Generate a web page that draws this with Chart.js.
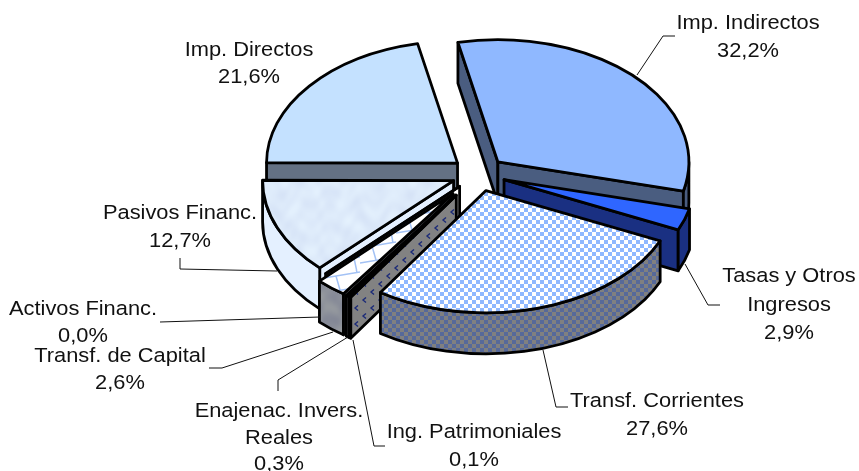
<!DOCTYPE html>
<html>
<head>
<meta charset="utf-8">
<style>
  html, body { margin: 0; padding: 0; background: #fff; }
  canvas { display: block; }
</style>
<script src="https://cdn.jsdelivr.net/npm/chart.js@4"></script>
</head>
<body>
<canvas id="pie" width="859" height="471"></canvas>
<script>
const categories = ["Imp. Directos", "Imp. Indirectos", "Tasas y Otros Ingresos", "Transf. Corrientes",
  "Ing. Patrimoniales", "Enajenac. Invers. Reales", "Transf. de Capital", "Activos Financ.", "Pasivos Financ."];
const values = [21.6, 32.2, 2.9, 27.6, 0.1, 0.3, 2.6, 0.04, 12.7];

// label layout, same order as categories: centre x, baseline of each line
const labelLines = [
  ["Imp. Directos"], ["Imp. Indirectos"], ["Tasas y Otros", "Ingresos"], ["Transf. Corrientes"],
  ["Ing. Patrimoniales"], ["Enajenac. Invers.", "Reales"], ["Transf. de Capital"], ["Activos Financ."], ["Pasivos Financ."]
];
const labelX = [249, 748, 789, 657, 474, 279, 120, 83, 180];
const labelY = [56, 29, 282, 407, 438, 417, 362, 315, 219];
const lineGap = [27, 28, 28.5, 28, 28, 26.5, 27, 27, 28];
const leaders = [
  null,
  [[637, 75], [663, 36], [675, 36]],
  [[685, 264], [708, 305], [720, 305]],
  [[543, 350], [556, 407], [568, 407]],
  [[353, 340], [374, 446], [385, 446]],
  [[348, 337], [278, 380], [278, 391]],
  [[333, 332], [222, 368], [209, 368]],
  [[320, 317], [160, 322]],
  [[277, 271], [180, 269], [180, 258]]
];

const SQUASH = 0.64;
const DEPTH = 41;
const CENTER_Y = 174;
const explode = [27, 27, 27, 27, 40, 40, 40, 27, 27];
const drawOrder = [0, 1, 2, 8, 7, 6, 5, 4, 3];

function tile(w, h, paint) {
  const c = document.createElement("canvas");
  c.width = w; c.height = h;
  paint(c.getContext("2d"));
  return c.getContext("2d").createPattern(c, "repeat");
}
function checker(a, b, size) {
  return tile(size * 2, size * 2, (g) => {
    g.fillStyle = a; g.fillRect(0, 0, size * 2, size * 2);
    g.fillStyle = b; g.fillRect(size, 0, size, size); g.fillRect(0, size, size, size);
  });
}
// soft mottled texture, made of a few sines so that it tiles
function marble(r, g0, b, amp) {
  const n = 128;
  return tile(n, n, (g) => {
    const img = g.createImageData(n, n);
    for (let y = 0; y < n; y++) for (let x = 0; x < n; x++) {
      const u = x / n * Math.PI * 2, v = y / n * Math.PI * 2;
      const t = (Math.sin(u * 3 + Math.sin(v * 2) * 2) + Math.sin(v * 4 + Math.sin(u * 3) * 3)
        + Math.sin(u * 5 - v * 2 + Math.cos(v * 3)) + Math.sin(u * 2 + v * 7 + Math.sin(u * 4) * 2)) / 4;
      const i = (y * n + x) * 4, d = t * amp;
      img.data[i] = r + d; img.data[i + 1] = g0 + d; img.data[i + 2] = b + d * 0.5; img.data[i + 3] = 255;
    }
    g.putImageData(img, 0, 0);
  });
}
const dotted = tile(16, 16, (g) => {
  g.fillStyle = "#828282"; g.fillRect(0, 0, 16, 16);
  g.strokeStyle = "#1b2a78"; g.lineWidth = 1.4;
  [[3, 4], [11, 12]].forEach(([x, y]) => {
    g.beginPath(); g.moveTo(x + 3, y - 2.5); g.lineTo(x, y); g.lineTo(x + 3, y + 2.5); g.stroke();
  });
});
const bricks = tile(36, 30, (g) => {
  g.fillStyle = "#fff"; g.fillRect(0, 0, 36, 30);
  g.strokeStyle = "#a3c2f5"; g.lineWidth = 1.5;
  g.beginPath();
  g.moveTo(0, 8); g.lineTo(36, 2); g.moveTo(0, 23); g.lineTo(36, 17);
  g.moveTo(12, 6); g.lineTo(16, 20); g.moveTo(30, 18); g.lineTo(33, 32); g.moveTo(30, -12); g.lineTo(33, 3);
  g.stroke();
});

const topFill = ["#c4e1ff", "#8fb8ff", "#2f66ff", checker("#ffffff", "#8fb8ff", 4),
  "#26282e", "#101010", bricks, "#101010", marble(221, 234, 250, 7)];
const wallFill = ["#647184", "#4a5d80", "#1a3082", checker("#808080", "#56699a", 4),
  dotted, "#8a8d96", marble(140, 144, 154, 12), "#ffffff", "#e4f0ff"];

const slices3d = {
  id: "slices3d",
  beforeDatasetsDraw(chart) {
    const ctx = chart.ctx;
    const arcs = chart.getDatasetMeta(0).data;

    const apex = (arc, i) => {
      const mid = (arc.startAngle + arc.endAngle) / 2;
      return [arc.x + Math.cos(mid) * explode[i], CENTER_Y + Math.sin(mid) * explode[i] * SQUASH];
    };
    const paintPath = (fill) => {
      if (fill instanceof CanvasPattern) fill.setTransform(new DOMMatrix());
      ctx.fillStyle = fill;
      ctx.fill();
      ctx.stroke();
    };
    // flat side wall from the apex out to the rim at one angle
    const sideWall = (cx, cy, r, a, fill) => {
      const x = cx + Math.cos(a) * r, y = cy + Math.sin(a) * r * SQUASH;
      ctx.beginPath();
      ctx.moveTo(cx, cy);
      ctx.lineTo(x, y);
      ctx.lineTo(x, y + DEPTH);
      ctx.lineTo(cx, cy + DEPTH);
      ctx.closePath();
      paintPath(fill);
    };
    const topFace = (arc, i, cx, cy) => {
      ctx.save();
      ctx.translate(cx, cy);
      ctx.scale(1, SQUASH);
      ctx.translate(-arc.x, -arc.y);
      // keep textures square and fixed on the page
      const fill = topFill[i];
      if (fill instanceof CanvasPattern) fill.setTransform(ctx.getTransform().inverse());
      arc.draw(ctx);
      ctx.restore();
      ctx.beginPath();
      ctx.moveTo(cx, cy);
      ctx.ellipse(cx, cy, arc.outerRadius, arc.outerRadius * SQUASH, 0, arc.startAngle, arc.endAngle);
      ctx.closePath();
      ctx.stroke();
    };

    ctx.save();
    ctx.imageSmoothingEnabled = false;
    ctx.strokeStyle = "#000";
    ctx.lineWidth = 2.8;
    ctx.lineJoin = "round";
    drawOrder.forEach((i) => {
      const arc = arcs[i];
      const r = arc.outerRadius;
      const [cx, cy] = apex(arc, i);
      const s = arc.startAngle, e = arc.endAngle;

      // only the faces that look towards the viewer
      if (Math.cos(s) < 0) sideWall(cx, cy, r, s, wallFill[i]);
      if (Math.cos(e) > 0) sideWall(cx, cy, r, e, wallFill[i]);
      const lo = Math.max(s, 0), hi = Math.min(e, Math.PI);
      if (hi > lo) {
        ctx.beginPath();
        ctx.ellipse(cx, cy, r, r * SQUASH, 0, lo, hi);
        ctx.ellipse(cx, cy + DEPTH, r, r * SQUASH, 0, hi, lo, true);
        ctx.closePath();
        paintPath(wallFill[i]);
      }
      topFace(arc, i, cx, cy);
    });

    // leader lines
    ctx.lineWidth = 1;
    ctx.strokeStyle = "#111";
    ctx.lineJoin = "miter";
    leaders.forEach((pts) => {
      if (!pts) return;
      ctx.beginPath();
      pts.forEach(([x, y], k) => (k ? ctx.lineTo(x, y) : ctx.moveTo(x, y)));
      ctx.stroke();
    });

    // labels, slightly wider than the plain font like the original
    ctx.fillStyle = "#111";
    ctx.font = '20.5px "Liberation Sans", Arial, sans-serif';
    ctx.textAlign = "center";
    ctx.textBaseline = "alphabetic";
    values.forEach((v, i) => {
      const lines = labelLines[i].concat(v.toFixed(1).replace(".", ",") + "%");
      lines.forEach((t, k) => {
        ctx.save();
        ctx.translate(labelX[i], labelY[i] + k * lineGap[i]);
        ctx.scale(1.065, 1);
        ctx.fillText(t, 0, 0);
        ctx.restore();
      });
    });
    ctx.restore();
    return false;
  }
};

new Chart(document.getElementById("pie"), {
  type: "pie",
  data: {
    labels: categories,
    datasets: [{ data: values, backgroundColor: topFill, borderWidth: 0 }]
  },
  options: {
    responsive: false,
    animation: false,
    rotation: -89.8,
    radius: 191,
    layout: { padding: { left: 98 } },
    plugins: { legend: { display: false }, tooltip: { enabled: false } }
  },
  plugins: [slices3d]
});
</script>
</body>
</html>
